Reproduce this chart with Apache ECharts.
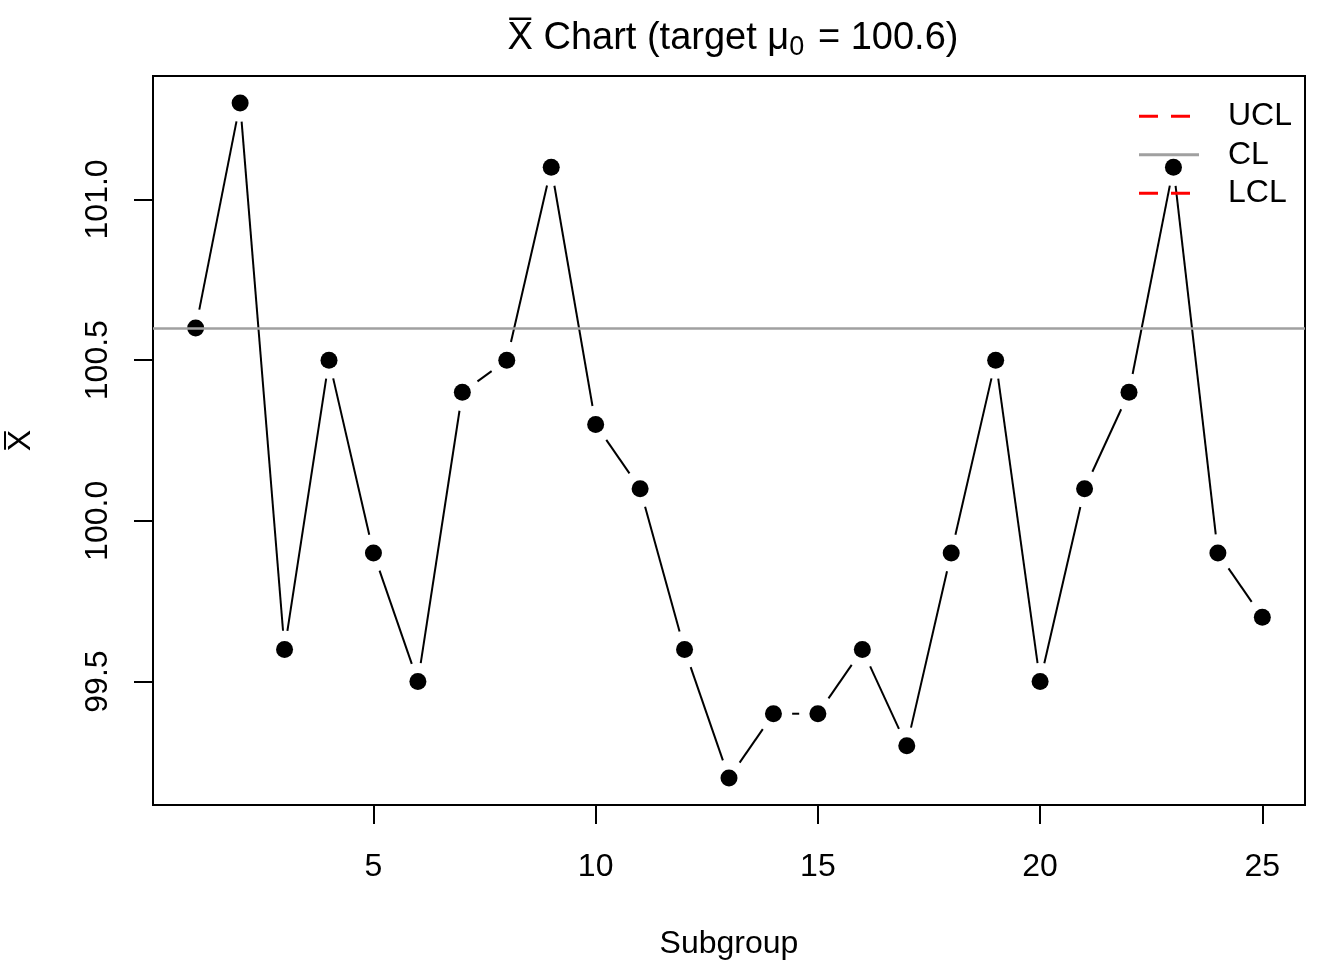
<!DOCTYPE html>
<html>
<head>
<meta charset="utf-8">
<script src="https://cdn.jsdelivr.net/npm/echarts@6/dist/echarts.min.js"></script>
<style>
  html, body { margin: 0; padding: 0; background: #fff; }
  #chart { width: 1344px; height: 960px; }
</style>
</head>
<body>
<div id="chart"></div>
<script>
// ---- data ----
const subgroups = [1,2,3,4,5,6,7,8,9,10,11,12,13,14,15,16,17,18,19,20,21,22,23,24,25];
const xbarValues = [100.6,101.3,99.6,100.5,99.9,99.5,100.4,100.5,101.1,100.3,100.1,99.6,99.2,
                    99.4,99.4,99.6,99.3,99.9,100.5,99.5,100.1,100.4,101.1,99.9,99.7];
const centerLine = 100.6;
const xTickValues = [5,10,15,20,25];
const yTickValues = [99.5,100.0,100.5,101.0];
const legendNames = ['UCL','CL','LCL'];

// R-style 4% axis expansion
function expand(arr){ const mn=Math.min(...arr), mx=Math.max(...arr), d=(mx-mn)*0.04; return [mn-d, mx+d]; }
const xr = expand(subgroups);
const yr = expand(xbarValues);

const FONT = 'Liberation Sans, Arial, Helvetica, sans-serif';
const GAP = 18.7; // type="b" gap around points

// legend line-sample icons (60 x 14 box)
const DASH_ICON = 'path://M0,0L0,14L0,0ZM60,0L60,14L60,0ZM0,5.5h19v3h-19zM32,5.5h19v3h-19z';
const SOLID_ICON = 'path://M0,0L0,14L0,0ZM60,0L60,14L60,0ZM0,5.6h60v2.8h-60z';

const segData = xbarValues.slice(0, -1).map((v, i) => [subgroups[i], v, subgroups[i+1], xbarValues[i+1]]);
const pointData = subgroups.map((s, i) => [s, xbarValues[i]]);

const chart = echarts.init(document.getElementById('chart'), null, {renderer: 'canvas'});
chart.setOption({
  animation: false,
  backgroundColor: '#fff',
  title: {
    text: 'X\u0305 Chart (target μ{sub|0}\u200A = 100.6)',
    left: 728, top: 12, textAlign: 'center',
    textStyle: {
      fontFamily: FONT, fontSize: 38, fontWeight: 'normal', color: '#000', lineHeight: 44,
      rich: { sub: { fontFamily: FONT, fontSize: 27, lineHeight: 20, verticalAlign: 'bottom', color: '#000' } }
    }
  },
  legend: {
    show: true, orient: 'vertical', left: 1139, top: 97, padding: 0,
    itemWidth: 60, itemHeight: 14, itemGap: 0, selectedMode: false,
    data: [
      { name: legendNames[0], icon: DASH_ICON },
      { name: legendNames[1], icon: SOLID_ICON },
      { name: legendNames[2], icon: DASH_ICON }
    ],
    itemStyle: { borderWidth: 0 },
    textStyle: { fontFamily: FONT, fontSize: 32, color: '#000', lineHeight: 38.5, padding: [0,0,0,24] }
  },
  grid: { left: 153, right: 39, top: 76, bottom: 155, show: true, borderColor: '#000', borderWidth: 2,
          backgroundColor: 'transparent', outerBoundsMode: 'none', containLabel: false },
  xAxis: {
    type: 'value', min: xr[0], max: xr[1],
    name: 'Subgroup', nameLocation: 'middle', nameGap: 123,
    nameTextStyle: { fontFamily: FONT, fontSize: 32, color: '#000' },
    axisLine: { show: true, onZero: false, lineStyle: { color: '#000', width: 2 } },
    axisTick: { show: true, length: 19, lineStyle: { color: '#000', width: 2 }, customValues: xTickValues },
    axisLabel: { show: true, margin: 46, fontFamily: FONT, fontSize: 32, color: '#000', customValues: xTickValues },
    splitLine: { show: false }
  },
  yAxis: {
    type: 'value', min: yr[0], max: yr[1],
    name: 'X\u0305', nameLocation: 'middle', nameGap: 116, nameRotate: 90,
    nameTextStyle: { fontFamily: FONT, fontSize: 32, color: '#000' },
    axisLine: { show: true, onZero: false, lineStyle: { color: '#000', width: 2 } },
    axisTick: { show: true, length: 19, lineStyle: { color: '#000', width: 2 }, customValues: yTickValues },
    axisLabel: { show: true, margin: 39, rotate: 90, fontFamily: FONT, fontSize: 32, color: '#000',
                 customValues: yTickValues, formatter: v => v.toFixed(1) },
    splitLine: { show: false }
  },
  series: [
    {
      name: 'segments', type: 'custom', z: 2, silent: true,
      data: segData,
      encode: { x: [0, 2], y: [1, 3] },
      renderItem: function (params, api) {
        const p1 = api.coord([api.value(0), api.value(1)]);
        const p2 = api.coord([api.value(2), api.value(3)]);
        const dx = p2[0]-p1[0], dy = p2[1]-p1[1];
        const L = Math.hypot(dx, dy);
        if (L <= 2*GAP) return null;
        const ux = dx/L, uy = dy/L;
        return { type: 'line',
          shape: { x1: p1[0]+ux*GAP, y1: p1[1]+uy*GAP, x2: p2[0]-ux*GAP, y2: p2[1]-uy*GAP },
          style: { stroke: '#000', lineWidth: 2 } };
      }
    },
    {
      name: 'points', type: 'scatter', z: 3, silent: true,
      data: pointData, symbol: 'circle', symbolSize: 17,
      itemStyle: { color: '#000', opacity: 1 }
    },
    {
      name: 'UCL', type: 'line', data: [], symbol: 'none', z: 4,
      lineStyle: { color: '#ff0000', width: 2.5, type: [19, 13] }, itemStyle: { color: '#ff0000' }
    },
    {
      name: 'CL', type: 'line', data: [], symbol: 'none', z: 5,
      lineStyle: { color: '#a0a0a0', width: 2.5 }, itemStyle: { color: '#a0a0a0' },
      markLine: {
        silent: true, symbol: 'none', animation: false,
        label: { show: false },
        lineStyle: { color: '#a0a0a0', width: 2.5, type: 'solid' },
        data: [{ yAxis: centerLine }]
      }
    },
    {
      name: 'LCL', type: 'line', data: [], symbol: 'none', z: 4,
      lineStyle: { color: '#ff0000', width: 2.5, type: [19, 13] }, itemStyle: { color: '#ff0000' }
    }
  ]
});
</script>
</body>
</html>
